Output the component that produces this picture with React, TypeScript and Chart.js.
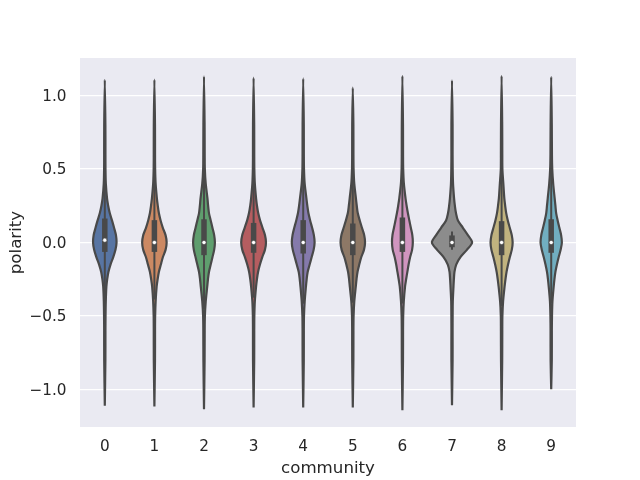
import React, { useEffect, useRef } from 'react';
import { Chart, registerables } from 'chart.js';

Chart.register(...registerables);

const CATEGORIES = ['0', '1', '2', '3', '4', '5', '6', '7', '8', '9'];
const COLORS = ['#5875A3', '#CC8963', '#5F9E6E', '#B55D60', '#857AAB', '#8D7866', '#D095BF', '#8C8C8C', '#C1B37F', '#71AEC0'];
const GRAY = '#494949';

// polarity levels at which the violin half-widths are read (in category units)
const LEVELS = [-0.8, -0.6, -0.5, -0.4, -0.3, -0.25, -0.2, -0.15, -0.1, -0.05, 0, 0.05, 0.1, 0.15, 0.2, 0.25, 0.3, 0.4, 0.5, 0.6, 0.8];

const WIDTH_0 = [0.012, 0.013, 0.015, 0.02, 0.032, 0.048, 0.073, 0.115, 0.17, 0.215, 0.237, 0.225, 0.187, 0.145, 0.1, 0.068, 0.045, 0.021, 0.014, 0.013, 0.012];
const WIDTH_1 = [0.012, 0.013, 0.015, 0.025, 0.045, 0.065, 0.09, 0.13, 0.17, 0.225, 0.247, 0.225, 0.17, 0.125, 0.09, 0.068, 0.05, 0.025, 0.015, 0.013, 0.012];
const WIDTH_2 = [0.012, 0.014, 0.018, 0.035, 0.065, 0.08, 0.1, 0.135, 0.17, 0.205, 0.22, 0.205, 0.17, 0.135, 0.1, 0.083, 0.07, 0.035, 0.017, 0.014, 0.012];
const WIDTH_3 = [0.012, 0.013, 0.015, 0.025, 0.05, 0.067, 0.09, 0.128, 0.175, 0.228, 0.25, 0.23, 0.18, 0.13, 0.093, 0.068, 0.05, 0.025, 0.015, 0.013, 0.012];
const WIDTH_4 = [0.012, 0.013, 0.016, 0.03, 0.055, 0.07, 0.09, 0.13, 0.17, 0.21, 0.23, 0.215, 0.18, 0.14, 0.105, 0.083, 0.065, 0.03, 0.016, 0.013, 0.012];
const WIDTH_5 = [0.012, 0.013, 0.016, 0.03, 0.06, 0.075, 0.095, 0.13, 0.17, 0.225, 0.247, 0.23, 0.185, 0.14, 0.1, 0.08, 0.063, 0.03, 0.016, 0.013, 0.012];
const WIDTH_6 = [0.012, 0.013, 0.016, 0.028, 0.053, 0.075, 0.1, 0.125, 0.155, 0.195, 0.21, 0.2, 0.17, 0.14, 0.11, 0.085, 0.063, 0.03, 0.016, 0.013, 0.012];
const WIDTH_7 = [0.012, 0.012, 0.013, 0.016, 0.03, 0.038, 0.05, 0.085, 0.17, 0.3, 0.405, 0.32, 0.22, 0.12, 0.08, 0.058, 0.042, 0.021, 0.014, 0.012, 0.012];
const WIDTH_8 = [0.012, 0.014, 0.016, 0.03, 0.06, 0.078, 0.1, 0.13, 0.165, 0.205, 0.223, 0.205, 0.165, 0.125, 0.093, 0.072, 0.055, 0.035, 0.016, 0.014, 0.012];
const WIDTH_9 = [0.012, 0.013, 0.016, 0.025, 0.05, 0.065, 0.085, 0.115, 0.15, 0.19, 0.215, 0.2, 0.165, 0.13, 0.1, 0.085, 0.07, 0.04, 0.021, 0.015, 0.012];
const HALF_WIDTHS = [WIDTH_0, WIDTH_1, WIDTH_2, WIDTH_3, WIDTH_4, WIDTH_5, WIDTH_6, WIDTH_7, WIDTH_8, WIDTH_9];

const TAIL_TOP = [1.105, 1.108, 1.13, 1.12, 1.115, 1.052, 1.133, 1.102, 1.133, 1.126];
const TAIL_BOTTOM = [-1.11, -1.115, -1.133, -1.122, -1.122, -1.122, -1.14, -1.106, -1.14, -0.997];

const Q1 = [-0.064, -0.064, -0.086, -0.07, -0.075, -0.086, -0.064, -0.032, -0.086, -0.07];
const Q3 = [0.163, 0.152, 0.158, 0.133, 0.152, 0.129, 0.17, 0.048, 0.145, 0.158];
const MEDIAN = [0.016, 0, 0, 0, 0, 0, 0, 0, 0, 0];
const WHISK_LO = [-0.405, -0.388, -0.452, -0.375, -0.416, -0.409, -0.415, -0.05, -0.433, -0.412];
const WHISK_HI = [0.503, 0.476, 0.524, 0.437, 0.493, 0.452, 0.521, 0.075, 0.492, 0.5];

const Y_TICKS = [-1, -0.5, 0, 0.5, 1];
const Y_TICK_LABELS = ['\u22121.0', '\u22120.5', '0.0', '0.5', '1.0'];

const FONT = 'DejaVu Sans';
const TEXT = '#262626';

const bgPlugin = {
  id: 'bgArea',
  beforeDraw(chart: any) {
    const { ctx, chartArea } = chart;
    ctx.save();
    ctx.fillStyle = '#EAEAF2';
    ctx.fillRect(chartArea.left, chartArea.top, chartArea.right - chartArea.left, chartArea.bottom - chartArea.top);
    ctx.restore();
  },
};

export default function App() {
  const ref = useRef<HTMLCanvasElement | null>(null);

  useEffect(() => {
    if (!ref.current) return;
    const datasets: any[] = [];

    CATEGORIES.forEach((_, i) => {
      const w = HALF_WIDTHS[i];
      const pts: { x: number; y: number }[] = [{ x: i, y: TAIL_BOTTOM[i] }];
      LEVELS.forEach((lv, k) => pts.push({ x: i - w[k], y: lv }));
      pts.push({ x: i, y: TAIL_TOP[i] });
      for (let k = LEVELS.length - 1; k >= 0; k--) pts.push({ x: i + w[k], y: LEVELS[k] });
      pts.push({ x: i, y: TAIL_BOTTOM[i] });
      datasets.push({
        type: 'scatter',
        data: pts,
        showLine: true,
        fill: 'shape',
        backgroundColor: COLORS[i],
        borderColor: GRAY,
        borderWidth: 2.2,
        borderJoinStyle: 'round',
        pointRadius: 0,
        tension: 0.3,
        order: 4,
      });
    });

    CATEGORIES.forEach((_, i) => {
      datasets.push({
        type: 'scatter',
        data: [{ x: i, y: WHISK_LO[i] }, { x: i, y: WHISK_HI[i] }],
        showLine: true,
        fill: false,
        borderColor: GRAY,
        borderWidth: 2,
        pointRadius: 0,
        tension: 0.01,
        order: 3,
      });
      datasets.push({
        type: 'scatter',
        data: [{ x: i, y: Q1[i] }, { x: i, y: Q3[i] }],
        showLine: true,
        fill: false,
        borderColor: GRAY,
        borderWidth: 5.5,
        pointRadius: 0,
        tension: 0.01,
        order: 2,
      });
    });

    datasets.push({
      type: 'scatter',
      data: CATEGORIES.map((_, i) => ({ x: i, y: MEDIAN[i] })),
      showLine: false,
      pointRadius: 2.1,
      pointBackgroundColor: '#ffffff',
      pointBorderColor: GRAY,
      pointBorderWidth: 0.6,
      order: 1,
    });

    const chart = new Chart(ref.current, {
      type: 'scatter',
      data: { datasets },
      plugins: [bgPlugin],
      options: {
        animation: false,
        responsive: false,
        devicePixelRatio: 1,
        events: [],
        layout: { padding: { top: 58, right: 64, left: 0, bottom: 0 } },
        plugins: { legend: { display: false }, tooltip: { enabled: false } },
        scales: {
          x: {
            type: 'linear',
            min: -0.5,
            max: 9.5,
            afterBuildTicks: (s: any) => {
              s.ticks = CATEGORIES.map((_, i) => ({ value: i }));
            },
            afterFit: (s: any) => {
              s.height = 53;
            },
            ticks: {
              autoSkip: false,
              maxRotation: 0,
              padding: 11,
              color: TEXT,
              font: { family: FONT, size: 15.28 },
              callback: (v: any) => CATEGORIES[Math.round(Number(v))],
            },
            grid: { display: false, drawTicks: false },
            border: { display: false },
            title: {
              display: true,
              text: 'community',
              color: TEXT,
              font: { family: FONT, size: 16.67 },
              padding: { top: 0, bottom: 1 },
            },
          },
          y: {
            type: 'linear',
            min: -1.254,
            max: 1.254,
            afterBuildTicks: (s: any) => {
              s.ticks = Y_TICKS.map((v) => ({ value: v }));
            },
            afterFit: (s: any) => {
              s.width = 80;
            },
            ticks: {
              padding: 13.5,
              labelOffset: 1.2,
              color: TEXT,
              font: { family: FONT, size: 15.28 },
              callback: (_v: any, idx: number) => Y_TICK_LABELS[idx],
            },
            grid: { color: '#ffffff', lineWidth: 1.3, drawTicks: false },
            border: { display: false },
            title: {
              display: true,
              text: 'polarity',
              color: TEXT,
              font: { family: FONT, size: 16.67 },
              padding: { top: 7, bottom: 0 },
            },
          },
        },
      },
    } as any);

    return () => chart.destroy();
  }, []);

  return (
    <div style={{ position: 'absolute', left: 0, top: 0, width: 640, height: 480 }}>
      <canvas ref={ref} width={640} height={480} style={{ display: 'block' }} />
    </div>
  );
}
